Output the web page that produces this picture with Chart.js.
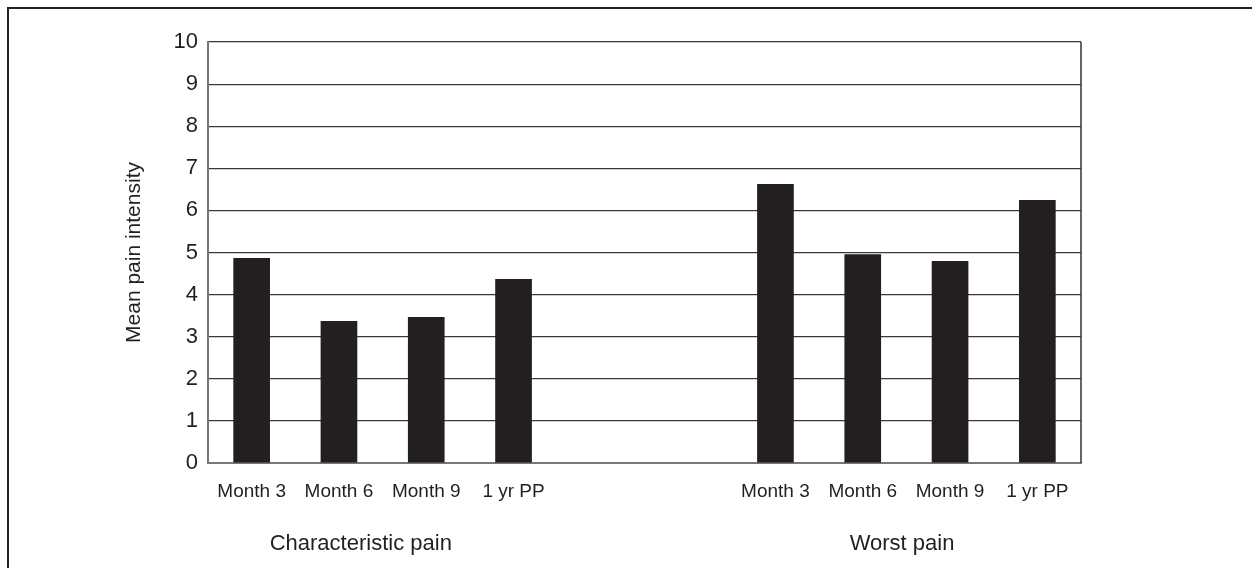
<!DOCTYPE html>
<html><head><meta charset="utf-8">
<script src="https://cdn.jsdelivr.net/npm/chart.js@4"></script>
<style>
html,body{margin:0;padding:0;background:#fff;}
#wrap{position:relative;width:1252px;height:568px;overflow:hidden;background:#fff;}
#frame{position:absolute;left:7px;top:7px;width:1300px;height:600px;border-left:2px solid #222;border-top:2px solid #222;pointer-events:none;}
canvas{position:absolute;left:0;top:0;}
</style></head><body>
<div id="wrap"><canvas id="c" width="1252" height="568"></canvas><div id="frame"></div></div>
<script>
// ---- data ----
const timepoints = ['Month 3', 'Month 6', 'Month 9', '1 yr PP'];
const characteristicPain = [4.87, 3.37, 3.47, 4.37];
const worstPain = [6.63, 4.96, 4.80, 6.25];
const groupNames = ['Characteristic pain', 'Worst pain'];
const groupLabPos = [1.25, 7.45];   // category-index positions of the group captions
const gapSlots = 2;
const yMin = 0, yMax = 10, yStep = 1;
const yTitle = 'Mean pain intensity';

// build the category table
const labels = [...timepoints, ...Array(gapSlots).fill(''), ...timepoints];
const values = [...characteristicPain, ...Array(gapSlots).fill(null), ...worstPain];

const FONT = '"Liberation Sans", Arial, sans-serif';
const INK = '#231f20';

const frameAndGroups = {
  id: 'frameAndGroups',
  afterDraw(chart) {
    const {ctx, chartArea: a, scales} = chart;
    ctx.save();
    ctx.strokeStyle = '#333';
    ctx.lineWidth = 1.5;
    ctx.beginPath();
    ctx.moveTo(a.right, a.top);
    ctx.lineTo(a.right, a.bottom);
    ctx.stroke();
    ctx.fillStyle = INK;
    ctx.font = '22px ' + FONT;
    ctx.textAlign = 'center';
    ctx.textBaseline = 'alphabetic';
    groupNames.forEach((g, i) => {
      ctx.fillText(g, scales.x.getPixelForValue(groupLabPos[i]), 550);
    });
    ctx.restore();
  }
};

new Chart(document.getElementById('c'), {
  type: 'bar',
  data: {
    labels: labels,
    datasets: [{
      data: values,
      backgroundColor: INK,
      borderWidth: 0,
      categoryPercentage: 1,
      barPercentage: 0.42
    }]
  },
  options: {
    responsive: false,
    animation: false,
    devicePixelRatio: 1,
    layout: {padding: {left: 110, top: 42, right: 171, bottom: 0}},
    plugins: {legend: {display: false}, tooltip: {enabled: false}},
    scales: {
      x: {
        grid: {display: false, drawTicks: false},
        border: {display: true, color: '#777', width: 2},
        ticks: {color: INK, font: {family: FONT, size: 19}, padding: 17, maxRotation: 0, autoSkip: false},
        afterFit(s) { s.height = 105; }
      },
      y: {
        min: yMin, max: yMax,
        grid: {color: '#3a3a3a', lineWidth: 1.2, drawTicks: false},
        border: {display: true, color: '#777', width: 2},
        ticks: {stepSize: yStep, color: INK, font: {family: FONT, size: 22}, padding: 10},
        title: {display: true, text: yTitle, color: INK, font: {family: FONT, size: 21}, padding: {top: 12, bottom: 0}},
        afterFit(s) { s.width = 98; }
      }
    }
  },
  plugins: [frameAndGroups]
});
</script>
</body></html>
